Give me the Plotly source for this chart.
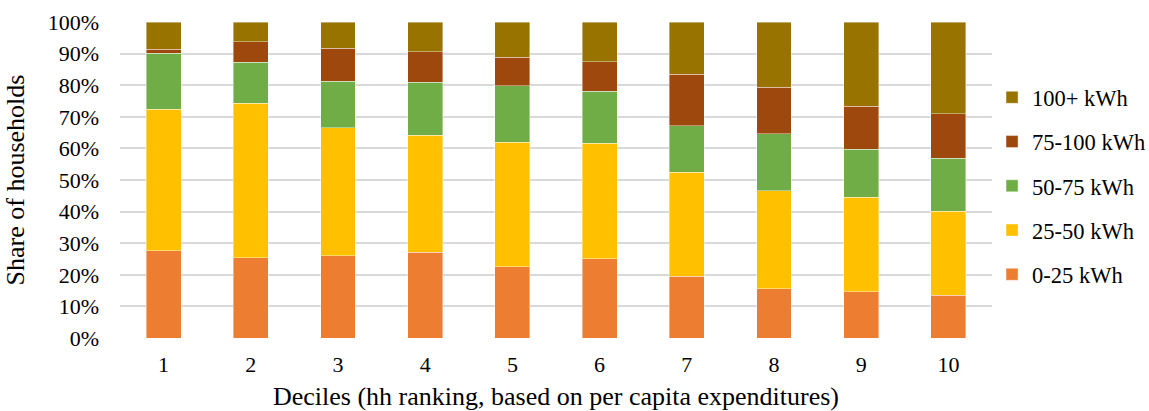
import plotly.graph_objects as go

deciles = ["1", "2", "3", "4", "5", "6", "7", "8", "9", "10"]
series_names = ["0-25 kWh", "25-50 kWh", "50-75 kWh", "75-100 kWh", "100+ kWh"]
v_0_25 = [27.6, 25.4, 26.0, 27.1, 22.5, 25.1, 19.6, 15.6, 14.6, 13.5]
v_25_50 = [44.8, 48.9, 40.5, 37.0, 39.4, 36.5, 32.8, 31.0, 29.9, 26.6]
v_50_75 = [17.7, 12.9, 14.8, 16.8, 18.0, 16.5, 14.8, 18.0, 15.2, 16.8]
v_75_100 = [1.3, 6.6, 10.4, 9.7, 8.9, 9.3, 16.2, 14.7, 13.6, 14.1]
v_100p = [8.6, 6.2, 8.3, 9.4, 11.2, 12.6, 16.6, 20.7, 26.7, 29.0]
colors = ["#ED7D31", "#FFC000", "#70AD47", "#9E480E", "#997300"]

values = [v_0_25, v_25_50, v_50_75, v_75_100, v_100p]

fig = go.Figure()
n = len(series_names)
for i, (name, vals, col) in enumerate(zip(series_names, values, colors)):
    fig.add_trace(go.Bar(
        x=deciles, y=[v / 100 for v in vals], name=name, legendgroup=name,
        legendrank=n - i,
        marker=dict(color=col, line=dict(color="rgba(255,255,255,0.5)", width=0.8)),
    ))

font_family = "Liberation Serif"
fig.update_layout(
    barmode="stack",
    bargap=0.6,
    width=1149, height=411,
    margin=dict(l=120, r=157, t=22, b=73),
    plot_bgcolor="white", paper_bgcolor="white",
    font=dict(family=font_family, size=22, color="#000000"),
    legend=dict(
        traceorder="grouped", tracegroupgap=12,
        xref="container", yref="container",
        x=0.8634, xanchor="left", y=0.547, yanchor="middle",
        font=dict(size=22.5, family=font_family),
        itemwidth=30, maxheight=400,
    ),
    xaxis=dict(
        title=dict(text="Deciles (hh ranking, based on per capita expenditures)",
                   font=dict(size=26)),
        automargin=False,
        tickfont=dict(size=22), showgrid=False, zeroline=False,
        ticks="", showline=False, ticklabelstandoff=11,
    ),
    yaxis=dict(
        title=dict(text="Share of households", font=dict(size=26)),
        automargin=False,
        range=[0, 1], tickformat=".0%", dtick=0.1,
        tickfont=dict(size=22), ticklabelstandoff=20,
        showgrid=True, gridcolor="#D9D9D9", gridwidth=1.5,
        zeroline=False, showline=False, ticks="",
    ),
)

fig.write_html("out.html")
